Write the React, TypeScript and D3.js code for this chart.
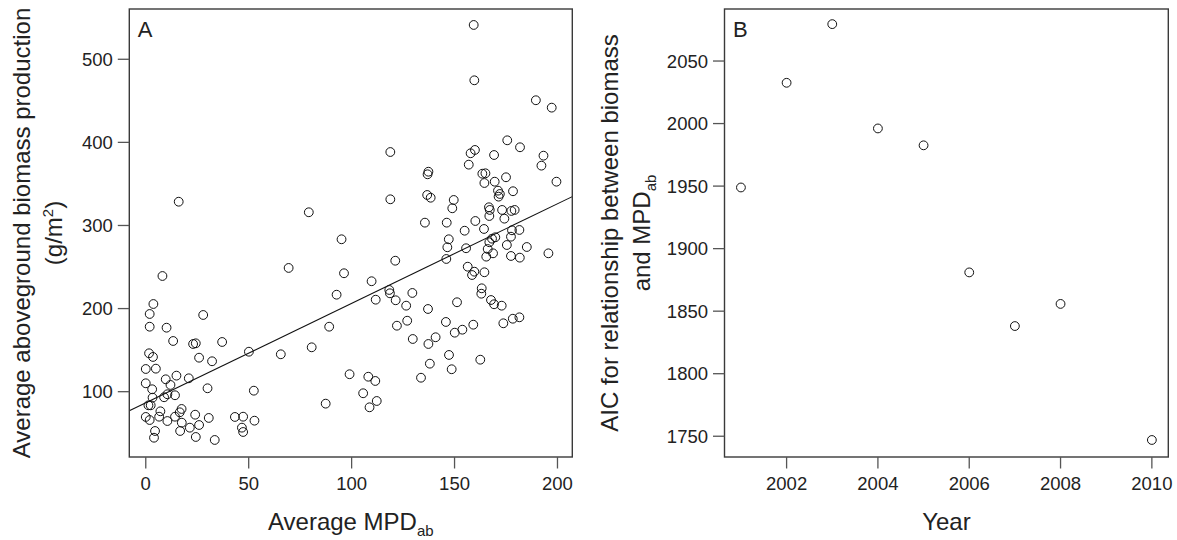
import React from "react";
import * as d3 from "d3";

// Panel A: average MPD_ab vs average aboveground biomass production
const mpdA: number[] = [
  69.4, 96.3, 8.1, 92.7, 3.7, 1.9, 27.9, 1.9, 10.1, 89.1, 13.3, 23, 24.3, 37.1, 1.6, 3.5, 25.9, 32.2, 50.1, 65.6,
  80.6, 0, 4.9, 0, 9.7, 14.9, 12, 20.9, 3.1, 30, 3.3, 8.9, 10.5, 14.2, 1.3, 2.4, 52.5, 99, 87.4, 7.1,
  17.4, 16.5, 0, 1.9, 6.5, 10.5, 14.2, 17.5, 24, 25.9, 30.6, 21.4, 16.7, 4.5, 4, 24.3, 33.5, 43.3, 47.3, 46.7,
  47.3, 52.8, 16, 79.2, 95.1,
  159.3, 159.6, 189.5, 197.2, 118.8, 175.6, 181.8, 157.8, 159.9, 169.2, 193.2, 192.2, 156.9, 137.3, 136.9, 163.5, 165, 164.5, 169.5, 175,
  199.5, 171.1, 172, 171.4, 178.4, 118.8, 136.7, 138.4, 149.6, 148.9, 166.7, 167.1, 173.1, 177.6, 179.2, 166.9, 174.2, 135.6, 146.2, 160.1,
  164.3, 154.9, 177.9, 181.5, 177.4, 169.8, 168.2, 147.2, 166.9, 146.5, 155.6, 166.1, 175.4, 185.1, 195.6, 168.7, 165.4, 177.4, 181.7, 146,
  121.2, 156.4,
  159.6, 158.5, 164.5, 109.7, 118.3, 118.6, 111.7, 121.4, 129.5, 126.5, 137.1, 151.2, 163.2, 163, 167.7, 169.2, 172.9, 127, 122, 145.8,
  150.1, 153.8, 159.1, 173.7, 178.3, 181.5, 129.7, 137.3, 140.8, 147.3, 138, 148.6, 133.7, 162.5, 108.1, 111.5, 105.6, 112.2, 108.7,
];
const biomassA: number[] = [
  248.9, 242.5, 239.2, 216.7, 205.5, 193.5, 192.3, 178.2, 177, 178.2, 161, 157.4, 158.2, 159.8, 146.2, 141.8, 140.9, 136.6, 148.1, 145,
  153.4, 127.3, 127.7, 110.1, 114.9, 119.3, 108.1, 116.1, 102.9, 104.1, 92.8, 93.3, 96.9, 95.7, 83.6, 83.6, 101.2, 121, 85.6, 76.4,
  79.2, 75.2, 69.6, 65.9, 69.9, 64.7, 69.9, 62.7, 72.3, 59.9, 68.4, 56.7, 52.7, 52.7, 44.6, 45.5, 41.9, 69.6, 69.9, 56.7,
  51.5, 65.1, 328.6, 315.9, 283.4,
  541.3, 474.7, 450.7, 441.8, 388.4, 402.5, 394.1, 386.9, 390.9, 384.8, 384, 372, 373.2, 364.7, 361.6, 362.3, 362.8, 351.1, 352.7, 358,
  352.7, 341.9, 337.9, 334.7, 341.2, 331.5, 336.7, 333.4, 330.7, 320.7, 321.9, 318.7, 318.7, 317.5, 318.7, 311.4, 308.2, 303.4, 303.4, 305.4,
  295.8, 293.7, 294.2, 294.6, 286.5, 285.8, 284.1, 283.4, 279.8, 273.8, 272.6, 271.7, 276.5, 274.1, 266.5, 266.5, 262.5, 263.3, 261.3, 259.7,
  257.6, 250.4,
  244.4, 240.4, 243.7, 232.9, 222.4, 218.4, 210.7, 210, 218.8, 203.5, 199.5, 207.6, 224.4, 217.9, 210.3, 205.2, 203.5, 185.4, 179.4, 183.9,
  171, 174.6, 180.6, 182.3, 187.8, 189.5, 163.4, 157.4, 165.5, 144.2, 133.7, 127, 116.8, 138.5, 118, 112.9, 98.1, 88.8, 81.2,
];
const fitIntercept = 86.5;
const fitSlope = 1.198;
const xTicksA: number[] = [0, 50, 100, 150, 200];
const yTicksA: number[] = [100, 200, 300, 400, 500];

// Panel B: AIC by year
const yearsB: number[] = [2001, 2002, 2003, 2004, 2005, 2006, 2007, 2008, 2010];
const aicB: number[] = [1948.9, 2032.6, 2079.5, 1996.1, 1982.6, 1881, 1838.1, 1855.8, 1747];
const xTicksB: number[] = [2002, 2004, 2006, 2008, 2010];
const yTicksB: number[] = [1750, 1800, 1850, 1900, 1950, 2000, 2050];

const FONT = "'Liberation Sans', Arial, Helvetica, sans-serif";
const TXT = "#222";
const BOX = "#3a3a3a";
const TICK = "#555";

function Panel(props: {
  xs: number[]; ys: number[]; xDomain: [number, number]; yDomain: [number, number];
  left: number; right: number; top: number; bottom: number;
  xTicks: number[]; yTicks: number[]; label: string; r: number;
  fit?: [number, number];
}) {
  const { xs, ys, left, right, top, bottom } = props;
  const x = d3.scaleLinear().domain(props.xDomain).range([left, right]);
  const y = d3.scaleLinear().domain(props.yDomain).range([bottom, top]);
  const tl = 11.5;
  const clipId = "clip" + props.label;
  let fitPath: string | null = null;
  if (props.fit) {
    const [a, b] = props.fit;
    const line = d3.line<number>().x((d) => x(d)).y((d) => y(a + b * d));
    fitPath = line(props.xDomain);
  }
  return (
    <g>
      <defs>
        <clipPath id={clipId}>
          <rect x={left} y={top} width={right - left} height={bottom - top} />
        </clipPath>
      </defs>
      {fitPath && <path d={fitPath} fill="none" stroke="#111" strokeWidth={1.1} clipPath={`url(#${clipId})`} />}
      {xs.map((d, i) => (
        <circle key={i} cx={x(d)} cy={y(ys[i])} r={props.r} fill="none" stroke="#111" strokeWidth={1} />
      ))}
      <rect x={left} y={top} width={right - left} height={bottom - top} fill="none" stroke={BOX} strokeWidth={1.4} />
      {props.xTicks.map((t) => (
        <g key={"x" + t}>
          <line x1={x(t)} x2={x(t)} y1={bottom} y2={bottom + tl} stroke={TICK} strokeWidth={1.3} />
          <text x={x(t)} y={489.5} textAnchor="middle" fontSize={18.5} fill={TXT} fontFamily={FONT}>{t}</text>
        </g>
      ))}
      {props.yTicks.map((t) => (
        <g key={"y" + t}>
          <line x1={left - tl} x2={left} y1={y(t)} y2={y(t)} stroke={TICK} strokeWidth={1.3} />
          <text x={left - tl - 5} y={y(t)} dy="0.35em" textAnchor="end" fontSize={18.5} fill={TXT} fontFamily={FONT}>{t}</text>
        </g>
      ))}
      <text x={left + 8.5} y={top + 28} fontSize={22} fill={TXT} fontFamily={FONT}>{props.label}</text>
    </g>
  );
}

export default function App() {
  const aTop = 9, aBottom = 457;
  return (
    <div style={{ position: "absolute", left: 0, top: 0 }}>
      <svg width={1177} height={540} style={{ display: "block", background: "#fff" }}>
        <Panel
          xs={mpdA} ys={biomassA} xDomain={[-8, 207.2]} yDomain={[21.4, 560.5]}
          left={129.3} right={572.3} top={aTop} bottom={aBottom}
          xTicks={xTicksA} yTicks={yTicksA} label="A" r={4.4} fit={[fitIntercept, fitSlope]}
        />
        <Panel
          xs={yearsB} ys={aicB} xDomain={[2000.64, 2010.36]} yDomain={[1733.4, 2091.6]}
          left={724.5} right={1168.3} top={aTop} bottom={aBottom}
          xTicks={xTicksB} yTicks={yTicksB} label="B" r={4.4}
        />
        {/* Panel A axis titles */}
        <text x={350.8} y={530} textAnchor="middle" fontSize={24} fill={TXT} fontFamily={FONT}>
          Average MPD<tspan fontSize={15} dy={6}>ab</tspan>
        </text>
        <g transform="translate(30,233) rotate(-90)">
          <text x={0} y={0} textAnchor="middle" fontSize={24} fill={TXT} fontFamily={FONT}>
            Average aboveground biomass production
          </text>
          <text x={0} y={32} textAnchor="middle" fontSize={24} fill={TXT} fontFamily={FONT}>
            (g/m<tspan fontSize={15} dy={-9}>2</tspan><tspan dy={9}>)</tspan>
          </text>
        </g>
        {/* Panel B axis titles */}
        <text x={946.4} y={530} textAnchor="middle" fontSize={24} fill={TXT} fontFamily={FONT}>Year</text>
        <g transform="translate(618,233) rotate(-90)">
          <text x={0} y={0} textAnchor="middle" fontSize={24} fill={TXT} fontFamily={FONT}>
            AIC for relationship between biomass
          </text>
          <text x={0} y={32} textAnchor="middle" fontSize={24} fill={TXT} fontFamily={FONT}>
            and MPD<tspan fontSize={15} dy={6}>ab</tspan>
          </text>
        </g>
      </svg>
    </div>
  );
}
